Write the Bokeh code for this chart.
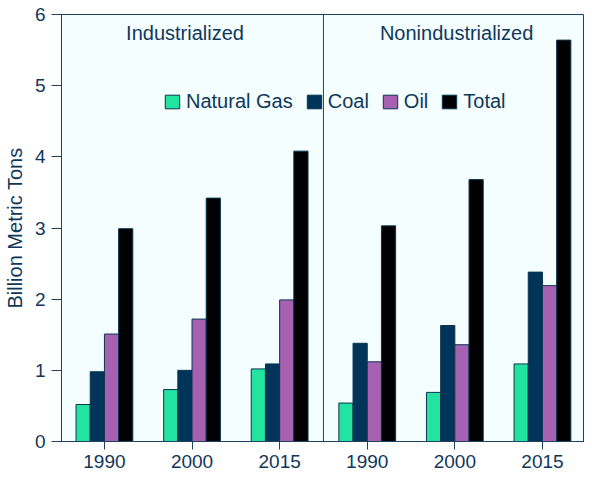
from bokeh.plotting import figure
from bokeh.models import Span, Label, Legend, LegendItem, FixedTicker, ColumnDataSource
from bokeh.embed import file_html
from bokeh.resources import INLINE

# ---- data ----
groups = ["Industrialized", "Nonindustrialized"]
years = ["1990", "2000", "2015"]
series = ["Natural Gas", "Coal", "Oil", "Total"]
natural_gas = [0.52, 0.73, 1.02, 0.54, 0.69, 1.09]
coal = [0.98, 1.00, 1.09, 1.38, 1.63, 2.38]
oil = [1.51, 1.72, 1.99, 1.12, 1.36, 2.19]
total = [2.99, 3.42, 4.08, 3.03, 3.68, 5.64]
colors = ["#22e3a0", "#003459", "#a662b0", "#000000"]

TXT = "#10375a"
LINE = "#1f4263"
FONT = "Liberation Sans"

tick_labels = [y for g in groups for y in years]
positions = list(range(len(tick_labels)))

p = figure(width=584, height=473, output_backend="svg", toolbar_location=None,
           x_range=(-0.49, 5.48), y_range=(0, 6),
           min_border_left=57, min_border_right=0, min_border_top=14, min_border_bottom=32)
p.background_fill_color = "#f4fefe"
p.border_fill_color = "white"
p.outline_line_color = LINE
p.outline_line_width = 1
p.xgrid.visible = False
p.ygrid.visible = False

bw = 0.162
offsets = [-1.5, -0.5, 0.5, 1.5]
vals = [natural_gas, coal, oil, total]
items = []
for name, v, c, o in zip(series, vals, colors, offsets):
    src = ColumnDataSource(dict(x=[pp + o * bw for pp in positions], top=v))
    r = p.vbar(x="x", top="top", width=bw, bottom=0, source=src,
               fill_color=c, line_color="#0b3452", line_width=1)
    items.append(LegendItem(label=name, renderers=[r]))

legend = Legend(items=items, orientation="horizontal", location=(102, 328),
                background_fill_alpha=0, border_line_alpha=0, padding=0, margin=0,
                spacing=12, glyph_width=18, glyph_height=17, label_standoff=5,
                label_height=17, label_text_font=FONT, label_text_font_size="20px",
                label_text_color=TXT, label_text_baseline="middle")
p.add_layout(legend, "center")

p.add_layout(Span(location=2.5, dimension="height", line_color=LINE, line_width=1))

for gi, g in enumerate(groups):
    xc = [0.92, 4.02][gi]
    p.add_layout(Label(x=xc, y=5.74, text=g, text_align="center", text_baseline="middle",
                       text_font=FONT, text_font_size="20px", text_color=TXT))

# x axis
p.xaxis.ticker = FixedTicker(ticks=positions)
p.xaxis.major_label_overrides = {pp: t for pp, t in zip(positions, tick_labels)}
p.xaxis.minor_tick_line_color = None
p.xaxis.major_tick_in = 0
p.xaxis.major_tick_out = 8
p.xaxis.major_label_standoff = 5

# y axis
p.yaxis.ticker = FixedTicker(ticks=[0, 1, 2, 3, 4, 5, 6])
p.yaxis.minor_tick_line_color = None
p.yaxis.major_tick_in = 0
p.yaxis.major_tick_out = 10
p.yaxis.major_label_standoff = 6
p.yaxis.axis_label = "Billion Metric Tons"
p.yaxis.axis_label_standoff = 6
p.yaxis.axis_label_text_font_style = "normal"
p.yaxis.axis_label_text_font_size = "20px"
p.yaxis.axis_label_text_font = FONT
p.yaxis.axis_label_text_color = TXT

for ax in (p.xaxis, p.yaxis):
    ax.axis_line_color = LINE
    ax.major_tick_line_color = LINE
    ax.major_label_text_font = FONT
    ax.major_label_text_font_size = "19px"
    ax.major_label_text_color = TXT

open("out.html", "w").write(file_html(p, INLINE))
